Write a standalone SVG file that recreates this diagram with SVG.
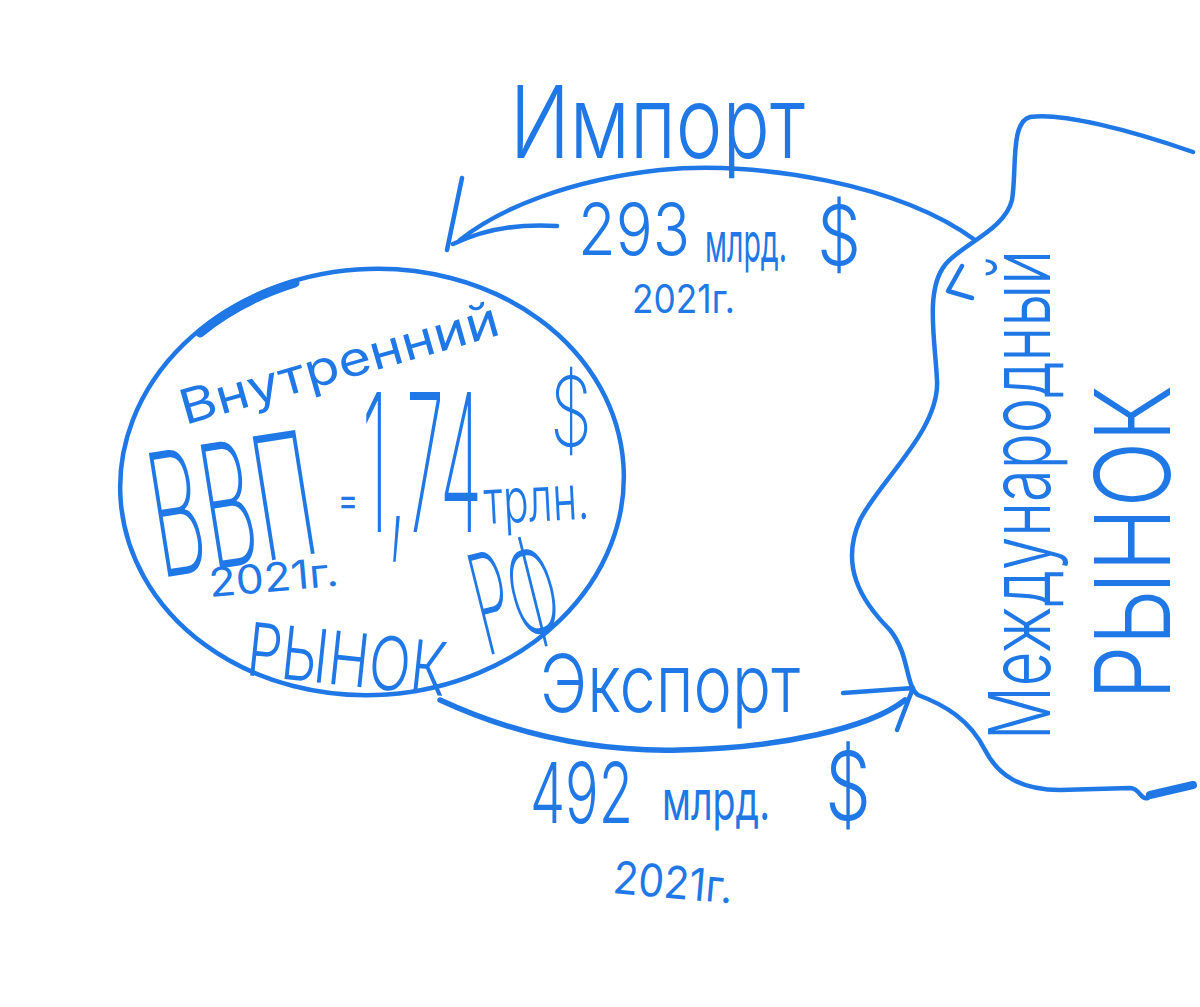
<svg xmlns="http://www.w3.org/2000/svg" width="1200" height="1007" viewBox="0 0 1200 1007">
<style>
.ln{fill:none;stroke:#1f78e6;stroke-width:4.5;stroke-linecap:round;stroke-linejoin:round}
.t{fill:#1f78e6;font-family:Inter,"Liberation Sans",sans-serif}
</style>
<rect width="1200" height="1007" fill="#ffffff"/>
<g id="node-domestic">
  <text class="t" x="185" y="425" font-size="48" font-weight="370" textLength="330" lengthAdjust="spacingAndGlyphs" transform="rotate(-16 185 425)">Внутренний</text>
  <text class="t" x="160" y="578" font-size="172" font-weight="170" textLength="165" lengthAdjust="spacingAndGlyphs" transform="rotate(-9 160 578)">ВВП</text>
  <text class="t" x="338" y="514" font-size="40" font-weight="400" textLength="20" lengthAdjust="spacingAndGlyphs">=</text>
  <text class="t" x="362" y="532" font-size="192" font-weight="200" textLength="120" lengthAdjust="spacingAndGlyphs">1,74</text>
  <text class="t" x="485" y="524" font-size="62" font-weight="350" textLength="105" lengthAdjust="spacingAndGlyphs" transform="rotate(-3 485 524)">трлн.</text>
  <text class="t" x="550" y="446" font-size="96" font-weight="250" textLength="42" lengthAdjust="spacingAndGlyphs">$</text>
  <text class="t" x="210" y="597" font-size="40" font-weight="430" textLength="130" lengthAdjust="spacingAndGlyphs" transform="rotate(-5 210 597)">2021г.</text>
  <text class="t" x="245" y="675" font-size="74" font-weight="330" textLength="200" lengthAdjust="spacingAndGlyphs" transform="rotate(6 245 675)">РЫНОК</text>
  <text class="t" x="486" y="656" font-size="140" font-weight="220" textLength="85" lengthAdjust="spacingAndGlyphs" transform="rotate(-14 486 656)">РФ</text>
  <ellipse class="ln" cx="372" cy="482" rx="252" ry="213" transform="rotate(-4 372 482)"/>
  <path class="ln" d="M 200 333 Q 240 300 295 283" style="stroke-width:9"/>
</g>
<g id="node-world">
  <text class="t" x="1050" y="740" font-size="85" font-weight="300" textLength="490" lengthAdjust="spacingAndGlyphs" transform="rotate(-90 1050 740)">Международный</text>
  <text class="t" x="1170" y="700" font-size="105" font-weight="270" textLength="315" lengthAdjust="spacingAndGlyphs" transform="rotate(-90 1170 700)">РЫНОК</text>
  <path class="ln" d="M 1193 152 C 1130 130, 1060 112, 1030 117 C 1010 122, 1017 170, 1012 200 C 1005 230, 960 245, 945 265 C 925 290, 935 340, 937 380 C 940 430, 880 480, 860 520 C 840 565, 860 600, 890 630 C 910 655, 905 685, 918 695 C 945 705, 970 720, 985 750 C 998 775, 1020 790, 1060 790 L 1130 788 C 1140 788, 1140 800, 1148 798"/>
  <path class="ln" d="M 1150 795 L 1193 785" style="stroke-width:8"/>
  <path class="ln" d="M 962 266 L 948 291 L 972 298"/>
</g>
<g id="label-import">
  <text class="t" x="510" y="158" font-size="100" font-weight="270" textLength="295" lengthAdjust="spacingAndGlyphs">Импорт</text>
  <text class="t" x="578" y="255" font-size="72" font-weight="330" textLength="112" lengthAdjust="spacingAndGlyphs">293</text>
  <text class="t" x="705" y="262" font-size="55" font-weight="400" textLength="82" lengthAdjust="spacingAndGlyphs">млрд.</text>
  <text class="t" x="817" y="265" font-size="82" font-weight="300" textLength="44" lengthAdjust="spacingAndGlyphs">$</text>
  <text class="t" x="632" y="313" font-size="40" font-weight="430" textLength="103" lengthAdjust="spacingAndGlyphs">2021г.</text>
</g>
<g id="label-export">
  <text class="t" x="540" y="712" font-size="80" font-weight="300" textLength="260" lengthAdjust="spacingAndGlyphs">Экспорт</text>
  <text class="t" x="530" y="823" font-size="84" font-weight="300" textLength="103" lengthAdjust="spacingAndGlyphs">492</text>
  <text class="t" x="662" y="820" font-size="55" font-weight="400" textLength="108" lengthAdjust="spacingAndGlyphs">млрд.</text>
  <text class="t" x="825" y="820" font-size="95" font-weight="270" textLength="46" lengthAdjust="spacingAndGlyphs">$</text>
  <text class="t" x="612" y="893" font-size="45" font-weight="430" textLength="120" lengthAdjust="spacingAndGlyphs" transform="rotate(5 612 893)">2021г.</text>
</g>
<g id="connectors">
  <path id="import-arc" class="ln" d="M 975 240 C 900 185, 760 160, 660 170 C 570 180, 500 208, 460 240"/>
  <path id="import-head" class="ln" d="M 462 178 L 447 250 M 453 244 Q 500 222 557 226"/>
  <path id="export-arc" class="ln" d="M 440 700 C 520 737, 600 752, 680 750 C 780 748, 870 728, 905 700" style="stroke-width:5.5"/>
  <path id="export-head" class="ln" d="M 843 693 L 913 688 L 897 730"/>
</g>
</svg>
